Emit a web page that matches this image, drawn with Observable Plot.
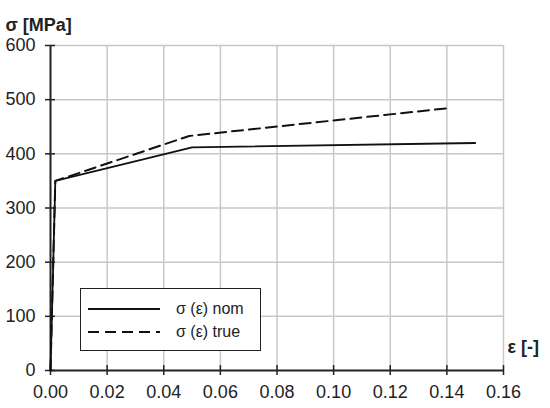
<!DOCTYPE html>
<html>
<head>
<meta charset="utf-8">
<script src="https://cdn.jsdelivr.net/npm/d3@7"></script>
<script src="https://cdn.jsdelivr.net/npm/@observablehq/plot@0.6"></script>
<style>
  body { margin: 0; background: #fff; }
  #wrap { position: relative; width: 550px; height: 408px; font-family: "Liberation Sans", Arial, sans-serif; }
  #legend { position: absolute; left: 80px; top: 288px; width: 181px; height: 63px; border: 1.5px solid #222; background: #fff; box-sizing: border-box; font-size: 16px; color: #222; }
  .row { position: absolute; left: 7px; height: 20px; display: flex; align-items: center; }
  .row svg { margin-right: 16px; }
</style>
</head>
<body>
<div id="wrap"></div>
<script>
const nomStrain = [0, 0.0017, 0.05, 0.15];
const nomStress = [0, 350, 412, 420];
const trueStrain = [0, 0.0017, 0.049, 0.14];
const trueStress = [0, 350, 433, 484];
const xTicks = [0, 0.02, 0.04, 0.06, 0.08, 0.10, 0.12, 0.14, 0.16];
const yTicks = [0, 100, 200, 300, 400, 500, 600];
const seriesNames = ["σ (ε) nom", "σ (ε) true"];

const nom = nomStrain.map((x, i) => ({x, y: nomStress[i]}));
const tru = trueStrain.map((x, i) => ({x, y: trueStress[i]}));

const chart = Plot.plot({
  width: 550,
  height: 408,
  marginLeft: 50,
  marginRight: 47,
  marginTop: 45,
  marginBottom: 38,
  style: { fontFamily: "Liberation Sans, Arial, sans-serif", fontSize: "18px", color: "#222", background: "#fff" },
  x: { domain: [0, 0.16] },
  y: { domain: [0, 600] },
  marks: [
    Plot.gridX(xTicks.slice(1), { stroke: "#c8c8c8", strokeOpacity: 1, strokeWidth: 1.5 }),
    Plot.gridY(yTicks.slice(1), { stroke: "#c8c8c8", strokeOpacity: 1, strokeWidth: 1.5 }),
    Plot.axisX(xTicks, { tickSize: 5, tickPadding: 10, tickFormat: d => d.toFixed(2), label: null, stroke: "#222", strokeWidth: 1.5, fontSize: 18 }),
    Plot.axisX(xTicks, { tickSize: -5, tickFormat: () => "", label: null, stroke: "#222", strokeWidth: 1.5 }),
    Plot.axisY(yTicks, { tickSize: 5, tickPadding: 10, tickFormat: d => String(d), label: null, stroke: "#222", strokeWidth: 1.5, fontSize: 18 }),
    Plot.axisY(yTicks, { tickSize: -5, tickFormat: () => "", label: null, stroke: "#222", strokeWidth: 1.5 }),
    Plot.ruleY([0], { stroke: "#222", strokeWidth: 2 }),
    Plot.ruleX([0], { stroke: "#222", strokeWidth: 2 }),
    Plot.line(nom, { x: "x", y: "y", stroke: "#111", strokeWidth: 1.8 }),
    Plot.line(tru, { x: "x", y: "y", stroke: "#111", strokeWidth: 2, strokeDasharray: "11,6" }),
    Plot.text(["σ [MPa]"], { frameAnchor: "top-left", dx: -45, dy: -27, text: d => d, textAnchor: "start", fontWeight: "bold", fontSize: 18, fill: "#222" }),
    Plot.text(["ε [-]"], { frameAnchor: "bottom-right", dx: 4, dy: -18, text: d => d, textAnchor: "start", fontWeight: "bold", fontSize: 18, fill: "#222" })
  ]
});

const wrap = document.getElementById("wrap");
wrap.appendChild(chart);

const legend = document.createElement("div");
legend.id = "legend";
const dashes = [null, "11,6"];
seriesNames.forEach((name, i) => {
  const row = document.createElement("div");
  row.className = "row";
  row.style.top = (10 + i * 23) + "px";
  row.innerHTML = `<svg width="72" height="6"><line x1="0" x2="72" y1="3" y2="3" stroke="#111" stroke-width="${i ? 2 : 1.8}" ${dashes[i] ? `stroke-dasharray="${dashes[i]}"` : ""}/></svg><span>${name}</span>`;
  legend.appendChild(row);
});
wrap.appendChild(legend);
</script>
</body>
</html>
